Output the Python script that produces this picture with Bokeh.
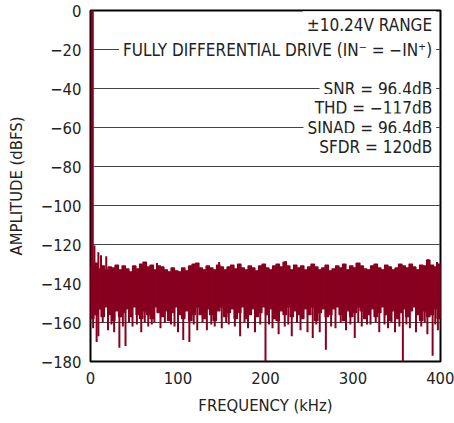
import numpy as np
from bokeh.plotting import figure
from bokeh.models import Label, Range1d, FixedTicker
from bokeh.embed import file_html
from bokeh.resources import INLINE

FONT = "DejaVu Sans Condensed"
RED = "#88001F"

# ---- data ----
x_ticks = [0, 100, 200, 300, 400]
y_ticks = [0, -20, -40, -60, -80, -100, -120, -140, -160, -180]

tone_freq = [1.8]
tone_db = [0.0]

# noise band per 4 kHz bin: upper and lower solid edge (dBFS)
band_top = [
    -131, -129.5, -132.5, -131, -133, -131.5, -132, -130.5, -133, -131,
    -132.5, -134, -131, -132.5, -130, -129, -131.5, -130.5, -133, -131,
    -131.5, -133, -134, -132, -133.5, -134, -132, -133.5, -131, -130,
    -129.5, -132, -133, -131, -132, -133, -130.5, -131.5, -133, -131.5,
    -130.5, -132.5, -130, -132, -133, -131, -132, -133.5, -131, -130,
    -132, -133, -131, -130, -131.5, -129, -131, -133, -130.5, -132,
    -131, -133, -131.5, -130, -131.5, -133, -132, -130.5, -133.5, -132.5,
    -131, -132, -130, -133, -131, -132, -129.5, -131, -132.5, -133,
    -131, -130, -132, -133, -130.5, -131.5, -133, -132, -130, -131,
    -132, -130, -131.5, -133, -130.5, -131, -128, -130.5, -131.5, -130]
band_bottom = [
    -158, -156, -153, -157, -152, -156, -159, -154, -157, -155,
    -153, -157, -152, -156, -158, -154, -156, -158, -152, -155,
    -157, -154, -159, -155, -152, -156, -158, -154, -159, -156,
    -152, -156, -158, -153, -156, -159, -154, -152, -157, -155,
    -153, -158, -155, -152, -158, -156, -153, -157, -155, -152,
    -156, -153, -158, -159, -154, -156, -152, -157, -154, -156,
    -158, -153, -156, -152, -159, -155, -153, -157, -156, -153,
    -152, -156, -159, -154, -157, -155, -152, -154, -158, -156,
    -153, -157, -155, -152, -156, -159, -154, -158, -155, -153,
    -157, -154, -152, -156, -159, -154, -157, -156, -153, -158]

# isolated upward spurs near the tone skirt and in the floor
spur_up_freq = [4.5, 9, 12, 18, 76, 147, 223, 304, 386, 396]
spur_up_db = [-120.5, -124, -125.5, -126, -129.5, -129, -128.5, -129.5, -127.5, -129]

# deep downward noise spikes
spike_freq = [3, 7, 9, 14, 20, 24, 27, 33, 37, 40, 44, 48, 53, 58, 62, 66, 70, 73,
              80, 85, 92, 96, 100, 106, 113, 118, 122, 128, 133, 138, 142, 150,
              155, 158, 165, 171, 176, 180, 188, 194, 200, 204, 208, 215, 222,
              226, 230, 236, 240, 248, 254, 258, 262, 269, 275, 280, 286, 292,
              297, 302, 306, 310, 316, 320, 326, 330, 336, 340, 344, 348, 353,
              357, 361, 365, 372, 378, 382, 385, 391, 394, 397]
spike_db = [-163, -170, -167, -160, -164, -161, -165, -173, -162, -172, -160,
            -162, -161, -165, -160, -162, -161, -160, -163, -160, -161, -162,
            -165, -169, -170, -161, -164, -160, -164, -161, -162, -163, -160,
            -161, -162, -167, -160, -163, -165, -161, -180, -161, -163, -166,
            -162, -161, -167, -160, -164, -165, -168, -161, -165, -174, -162,
            -163, -160, -164, -161, -168, -160, -162, -161, -161, -160, -165,
            -161, -163, -160, -165, -162, -180, -161, -163, -165, -162, -160,
            -166, -177, -161, -164]

bin_width = 4
bin_center = np.arange(len(band_top)) * bin_width + bin_width / 2

p = figure(width=454, height=423, x_range=Range1d(0, 400), y_range=Range1d(-180, 0),
           output_backend="svg", toolbar_location=None,
           min_border_left=90, min_border_right=14, min_border_top=10, min_border_bottom=62)

p.background_fill_color = "white"
p.border_fill_color = "white"
p.outline_line_color = "black"
p.outline_line_width = 2

p.xgrid.visible = False
p.ygrid.grid_line_color = "#444444"
p.ygrid.grid_line_width = 1
p.ygrid.ticker = FixedTicker(ticks=y_ticks)

p.xaxis.ticker = FixedTicker(ticks=x_ticks)
p.yaxis.ticker = FixedTicker(ticks=y_ticks)
p.yaxis.major_label_overrides = {t: (str(t).replace("-", "\u2212")) for t in y_ticks}

for ax in (p.xaxis[0], p.yaxis[0]):
    ax.axis_line_color = None
    ax.major_tick_in = 0
    ax.major_tick_out = 0
    ax.minor_tick_line_color = None
    ax.major_label_text_font = FONT
    ax.major_label_text_font_size = "16.5px"
    ax.major_label_text_color = "#222222"
    ax.axis_label_text_font = FONT
    ax.axis_label_text_font_size = "16.5px"
    ax.axis_label_text_font_style = "normal"
    ax.axis_label_text_color = "#222222"

p.xaxis.axis_label = "FREQUENCY (kHz)"
p.yaxis.axis_label = "AMPLITUDE (dBFS)"
p.xaxis.major_label_standoff = 10
p.yaxis.major_label_standoff = 9
p.xaxis.axis_label_standoff = 9
p.yaxis.axis_label_standoff = 12

# noise band
p.vbar(x=bin_center, width=bin_width, top=band_top, bottom=band_bottom,
       fill_color=RED, line_color=RED, line_width=1.2)
# downward spikes
p.segment(x0=spike_freq, y0=[-150] * len(spike_freq), x1=spike_freq, y1=spike_db,
          line_color=RED, line_width=2)
# upward spurs
p.segment(x0=spur_up_freq, y0=[-133] * len(spur_up_freq), x1=spur_up_freq, y1=spur_up_db,
          line_color=RED, line_width=2)
# fundamental tone
p.vbar(x=tone_freq, width=2.6, top=tone_db, bottom=-150, fill_color=RED, line_color=RED)

texts = [("\u00b110.24V RANGE", -7.5),
         ("FULLY DIFFERENTIAL DRIVE (IN\u207b = \u2212IN\u207a)", -20.0),
         ("SNR = 96.4dB", -40.0),
         ("THD = \u2212117dB", -50.0),
         ("SINAD = 96.4dB", -60.0),
         ("SFDR = 120dB", -70.0)]
for t, yv in texts:
    p.add_layout(Label(x=395, y=yv, text=t, text_align="right", text_baseline="middle",
                       text_font=FONT, text_font_size="17px", text_color="#222222",
                       background_fill_color="white", padding=4))

p.add_layout(Label(x=404, y=-206, text="232318 G11", text_align="right",
                   text_baseline="top", text_font=FONT, text_font_size="9px",
                   text_color="#333333"))

open("out.html", "w").write(file_html(p, INLINE))
